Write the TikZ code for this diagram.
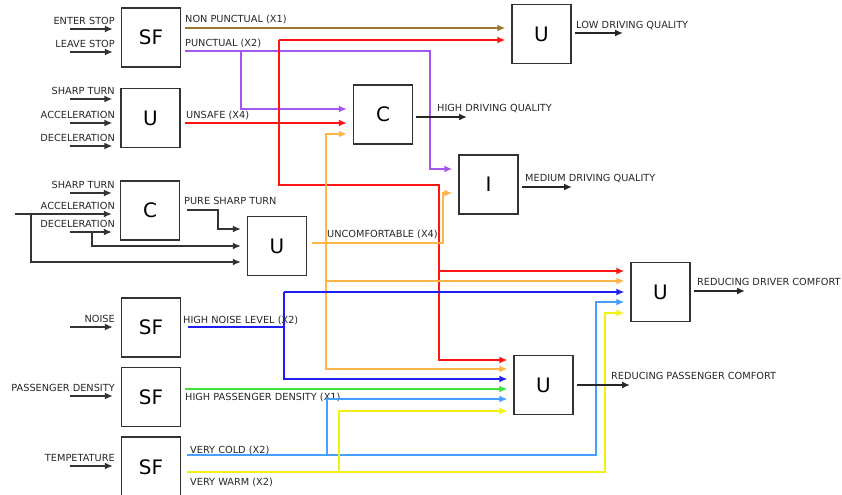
\documentclass[tikz,border=0pt]{standalone}
\usepackage{fontspec}
\setmainfont{DejaVu Sans}
\usetikzlibrary{arrows.meta}
\definecolor{cBrown}{RGB}{155,120,50}
\definecolor{cRed}{RGB}{255,20,20}
\definecolor{cPur}{RGB}{165,85,240}
\definecolor{cOr}{RGB}{255,180,70}
\definecolor{cBlue}{RGB}{30,30,245}
\definecolor{cGreen}{RGB}{60,225,60}
\definecolor{cLB}{RGB}{70,160,255}
\definecolor{cYel}{RGB}{245,240,20}
\begin{document}
\begin{tikzpicture}[x=1bp,y=-1bp,
  box/.style={draw=black!80,line width=1.2bp,minimum width=59bp,minimum height=59bp,inner sep=0pt,font=\fontsize{20}{24}\selectfont},
  lbl/.style={font=\fontsize{9.8}{11}\selectfont,inner sep=0pt,text=black!85},
  wire/.style={line width=1.8bp},
  arr/.style={wire,-{Latex[length=8bp,width=7bp]},shorten >=6bp},
  inarr/.style={arr,draw=black!80,shorten >=8bp},
  outarr/.style={wire,draw=black!85,-{Latex[length=8bp,width=7bp]},shorten <=3bp}]
\useasboundingbox (0,0) rectangle (842,495);

% boxes
\node[box] (sf1) at (151,37.5) {SF};
\node[box] (u1) at (150.5,118) {U};
\node[box] (c1) at (150,210.5) {C};
\node[box] (u2) at (277,246) {U};
\node[box] (sfn) at (151,327.5) {SF};
\node[box] (sfp) at (151,397) {SF};
\node[box,minimum height=60bp] (sft) at (151,467) {SF};
\node[box] (uLow) at (541.5,34) {U};
\node[box] (cMid) at (383,114.5) {C};
\node[box] (iB) at (488.5,184.5) {I};
\node[box] (uDrv) at (660.5,292) {U};
\node[box] (uPas) at (543.5,385) {U};

% left inputs
\foreach \y/\t/\b [count=\i] in {29/ENTER STOP/sf1, 52/LEAVE STOP/sf1, 99/SHARP TURN/u1, 123/ACCELERATION/u1, 146/DECELERATION/u1, 193/SHARP TURN/c1, 232/DECELERATION/c1, 327/NOISE/sfn, 396/PASSENGER DENSITY/sfp, 466/TEMPETATURE/sft}{
  \coordinate (in\i) at (70,\y);
  \draw[inarr] (in\i) -- (in\i -| \b.west);
  \node[lbl,anchor=base east] (inl\i) at (115,\y-4.5) {\t};
}
\coordinate (acc) at (15,214);
\draw[inarr] (acc) -- (acc -| c1.west);
\node[lbl,anchor=base east] (accl) at (115,209.5) {ACCELERATION};
\coordinate (j1) at (31,214);
\coordinate (k1) at (31,262);
\draw[arr,draw=black!80] (j1) -- (k1) -- (k1 -| u2.west);
\coordinate (j2) at (92,232);
\coordinate (k2) at (92,246);
\draw[arr,draw=black!80] (j2) -- (k2) -- (k2 -| u2.west);
\coordinate (p0) at (187,210);
\coordinate (p1) at (218,210);
\coordinate (p2) at (218,229);
\draw[arr,draw=black!80] (p0) -- (p1) -- (p2) -- (p2 -| u2.west);
\node[lbl,anchor=base west] (pstl) at (184,204.5) {PURE SHARP TURN};

% brown
\coordinate (b0) at (185,28);
\draw[arr,draw=cBrown] (b0) -- (b0 -| uLow.west);
\node[lbl,anchor=base west] (npl) at (185,23) {NON PUNCTUAL (X1)};

% purple
\coordinate (pu0) at (185,51);
\coordinate (pu1) at (430,51);
\coordinate (pu2) at (430,169);
\coordinate (pu3) at (241,51);
\coordinate (pu4) at (241,109);
\draw[arr,draw=cPur] (pu0) -- (pu1) -- (pu2) -- (pu2 -| iB.west);
\draw[arr,draw=cPur] (pu3) -- (pu4) -- (pu4 -| cMid.west);
\node[lbl,anchor=base west] (pl) at (185,46.5) {PUNCTUAL (X2)};

% red
\coordinate (r0) at (185,123);
\coordinate (r1) at (279,40);
\coordinate (r2) at (279,185);
\coordinate (r3) at (439,185);
\coordinate (r4) at (439,360);
\coordinate (r5) at (439,271);
\draw[arr,draw=cRed] (r0) -- (r0 -| cMid.west);
\draw[arr,draw=cRed] (r1) -- (r1 -| uLow.west);
\draw[arr,draw=cRed] (r1) -- (r2) -- (r3) -- (r4) -- (r4 -| uPas.west);
\draw[arr,draw=cRed] (r5) -- (r5 -| uDrv.west);
\node[lbl,anchor=base west] (ul) at (186,118.5) {UNSAFE (X4)};

% orange
\coordinate (o0) at (312,243);
\coordinate (o1) at (443,243);
\coordinate (o2) at (443,193);
\coordinate (o3) at (326,134);
\coordinate (o4) at (326,369);
\coordinate (o5) at (326,281);
\draw[arr,draw=cOr] (o0) -- (o1) -- (o2) -- (o2 -| iB.west);
\draw[arr,draw=cOr] (o4) -- (o3) -- (o3 -| cMid.west);
\draw[arr,draw=cOr] (o3) -- (o4) -- (o4 -| uPas.west);
\draw[arr,draw=cOr] (o5) -- (o5 -| uDrv.west);
\node[lbl,anchor=base west] (unl) at (327,237.5) {UNCOMFORTABLE (X4)};

% blue
\coordinate (bl0) at (188,327);
\coordinate (bl1) at (284,327);
\coordinate (bl2) at (284,292);
\coordinate (bl3) at (284,379);
\draw[wire,draw=cBlue] (bl0) -- (bl1);
\draw[arr,draw=cBlue] (bl2) -- (bl2 -| uDrv.west);
\draw[arr,draw=cBlue] (bl2) -- (bl3) -- (bl3 -| uPas.west);
\node[lbl,anchor=base west] (hnl) at (183,323.5) {HIGH NOISE LEVEL (X2)};

% green
\coordinate (g0) at (185,389);
\draw[arr,draw=cGreen] (g0) -- (g0 -| uPas.west);
\node[lbl,anchor=base west] (hpl) at (185,400.2) {HIGH PASSENGER DENSITY (X1)};

% light blue
\coordinate (lb0) at (187,455);
\coordinate (lb1) at (596,455);
\coordinate (lb2) at (596,302);
\coordinate (lb3) at (327,455);
\coordinate (lb4) at (327,399);
\draw[arr,draw=cLB] (lb0) -- (lb1) -- (lb2) -- (lb2 -| uDrv.west);
\draw[arr,draw=cLB] (lb3) -- (lb4) -- (lb4 -| uPas.west);
\node[lbl,anchor=base west] (vcl) at (190,453.5) {VERY COLD (X2)};

% yellow
\coordinate (y0) at (187,472);
\coordinate (y1) at (605,472);
\coordinate (y2) at (605,313);
\coordinate (y3) at (339,472);
\coordinate (y4) at (339,411);
\draw[arr,draw=cYel] (y0) -- (y1) -- (y2) -- (y2 -| uDrv.west);
\draw[arr,draw=cYel] (y3) -- (y4) -- (y4 -| uPas.west);
\node[lbl,anchor=base west] (vwl) at (190,485.2) {VERY WARM (X2)};

% outputs
\coordinate (oLow) at (623,33);
\draw[outarr] (uLow.east |- oLow) -- (oLow);
\node[lbl,anchor=base west] (lowl) at (576,28.5) {LOW DRIVING QUALITY};
\coordinate (oC) at (467,117);
\draw[outarr] (cMid.east |- oC) -- (oC);
\node[lbl,anchor=base west] (hdl) at (437,111.5) {HIGH DRIVING QUALITY};
\coordinate (oI) at (572,187);
\draw[outarr] (iB.east |- oI) -- (oI);
\node[lbl,anchor=base west] (mdl) at (525,181.5) {MEDIUM DRIVING QUALITY};
\coordinate (oD) at (745,291);
\draw[outarr] (uDrv.east |- oD) -- (oD);
\node[lbl,anchor=base west] (rdl) at (697,285.5) {REDUCING DRIVER COMFORT};
\coordinate (oP) at (630,385);
\draw[outarr] (uPas.east |- oP) -- (oP);
\node[lbl,anchor=base west] (rpl) at (611,379.5) {REDUCING PASSENGER COMFORT};
\end{tikzpicture}
\end{document}
